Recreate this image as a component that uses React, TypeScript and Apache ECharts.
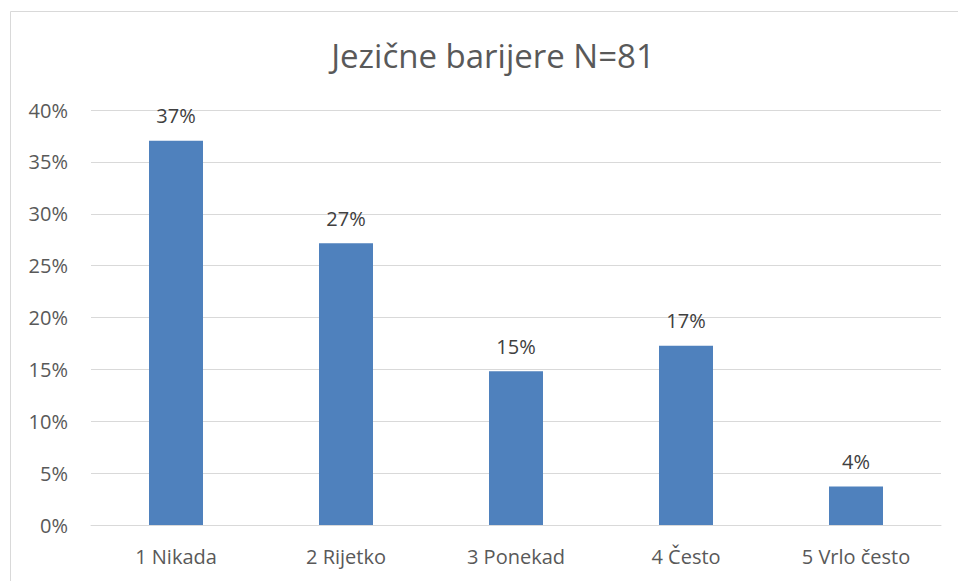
import React, { useEffect, useRef } from "react";
import * as echarts from "echarts";

const categories = ["1 Nikada", "2 Rijetko", "3 Ponekad", "4 Često", "5 Vrlo često"];
const values = [0.3704, 0.2716, 0.1481, 0.1728, 0.037];
const titleText = "Jezične barijere N=81";

export default function App() {
  const ref = useRef<HTMLDivElement>(null);
  useEffect(() => {
    document.body.style.margin = "0";
    const chart = echarts.init(ref.current!, null, { renderer: "svg" });
    const font = "'Open Sans', Lato, sans-serif";
    chart.setOption({
      animation: false,
      backgroundColor: "#ffffff",
      title: {
        text: titleText,
        left: 488,
        textAlign: "center",
        top: 34,
        textStyle: { fontFamily: font, fontSize: 33, fontWeight: "normal", color: "#595959" },
      },
      graphic: [
        {
          type: "rect",
          shape: { x: 10.5, y: 11.5, width: 1000, height: 1000 },
          style: { fill: "none", stroke: "#d9d9d9", lineWidth: 1 },
          silent: true,
        },
      ],
      grid: { left: 91, right: 17, top: 110, bottom: 56 },
      xAxis: {
        type: "category",
        data: categories,
        axisTick: { show: false },
        axisLine: { lineStyle: { color: "#d9d9d9", width: 1 } },
        axisLabel: { color: "#595959", fontSize: 20, fontFamily: font, margin: 21 },
      },
      yAxis: {
        type: "value",
        min: 0,
        max: 0.4,
        interval: 0.05,
        axisLine: { show: false },
        axisTick: { show: false },
        splitLine: { lineStyle: { color: "#d9d9d9", width: 1 } },
        axisLabel: {
          color: "#595959",
          fontSize: 20,
          fontFamily: font,
          margin: 23,
          formatter: (v: number) => Math.round(v * 100) + "%",
        },
      },
      series: [
        {
          type: "bar",
          data: values,
          barWidth: 54,
          itemStyle: { color: "#4f81bd" },
          label: {
            show: true,
            position: "top",
            distance: 15,
            color: "#404040",
            fontSize: 20,
            fontFamily: font,
            formatter: (p: any) => Math.round(p.value * 100) + "%",
          },
        },
      ],
    });
    return () => chart.dispose();
  }, []);
  return <div ref={ref} style={{ position: "fixed", left: 0, top: 0, width: 958, height: 581 }} />;
}
